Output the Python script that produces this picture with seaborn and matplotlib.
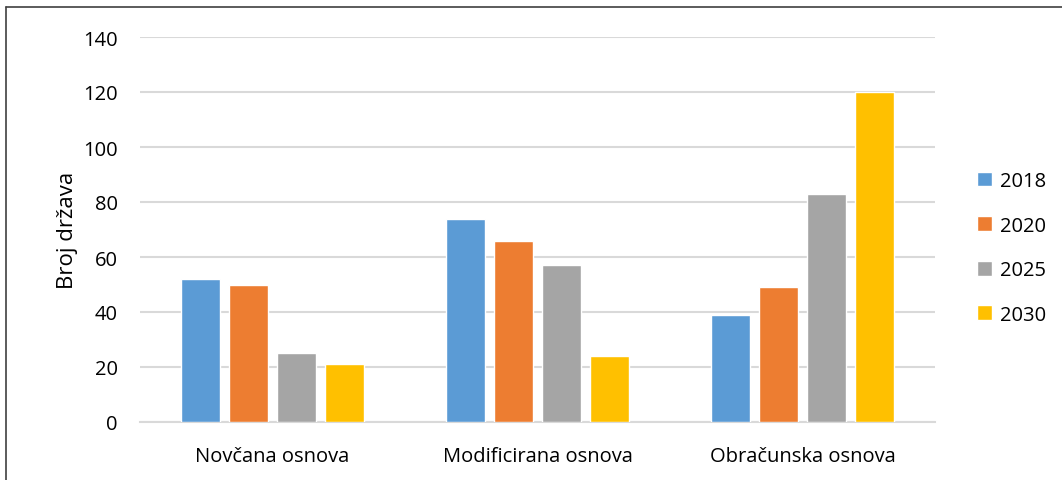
import pandas as pd
import matplotlib.pyplot as plt
import seaborn as sns
from matplotlib.lines import Line2D

# values
categories = ["Novčana osnova", "Modificirana osnova", "Obračunska osnova"]
years = ["2018", "2020", "2025", "2030"]
v2018 = [52, 74, 39]
v2020 = [50, 66, 49]
v2025 = [25, 57, 83]
v2030 = [21, 24, 120]
palette = ["#5B9BD5", "#ED7D31", "#A5A5A5", "#FFC000"]

df = pd.DataFrame({
    "Osnova": categories * 4,
    "Godina": [y for y in years for _ in categories],
    "Broj država": v2018 + v2020 + v2025 + v2030,
})

sns.set_style("white")
plt.rcParams['font.family'] = ['Open Sans', 'DejaVu Sans']
plt.rcParams['text.color'] = "black"
plt.rcParams['xtick.color'] = "black"
plt.rcParams['ytick.color'] = "black"
plt.rcParams['axes.labelcolor'] = "black"

fig = plt.figure(figsize=(10.62, 4.81), dpi=100)
ax = fig.add_axes([140 / 1062, 1 - 423 / 481, 795 / 1062, 385 / 481])

sns.barplot(data=df, x="Osnova", y="Broj država", hue="Godina", palette=palette,
            width=0.725, gap=0.2, saturation=1, ax=ax, zorder=3)

ax.set_ylim(0, 140)
ax.set_yticks(range(0, 141, 20))
ax.set_xlim(-0.5, 2.5)
ax.yaxis.grid(True, color="#d9d9d9", linewidth=1.5, zorder=0)
ax.set_axisbelow(True)
for s in ["top", "right", "left"]:
    ax.spines[s].set_visible(False)
ax.spines["bottom"].set_color("#d9d9d9")
ax.spines["bottom"].set_linewidth(1.5)
ax.tick_params(axis="y", length=0, pad=16, labelsize=14.5)
ax.tick_params(axis="x", length=0, pad=17, labelsize=14.5)
ax.set_xlabel("")
ax.set_ylabel("Broj država", fontsize=16, labelpad=4)

ax.legend(loc="center left", bbox_to_anchor=(1.03, 0.452), frameon=False,
          fontsize=14.5, handlelength=0.75, handleheight=0.75, handletextpad=0.4,
          labelspacing=1.22)

# frame of the original picture (top and left edges)
fig.add_artist(Line2D([6 / 1062, 1], [1 - 8 / 481, 1 - 8 / 481], color="#404040", linewidth=1.2))
fig.add_artist(Line2D([6 / 1062, 6 / 1062], [0, 1 - 8 / 481], color="#404040", linewidth=1.2))

fig.savefig("out.png", dpi=100)
